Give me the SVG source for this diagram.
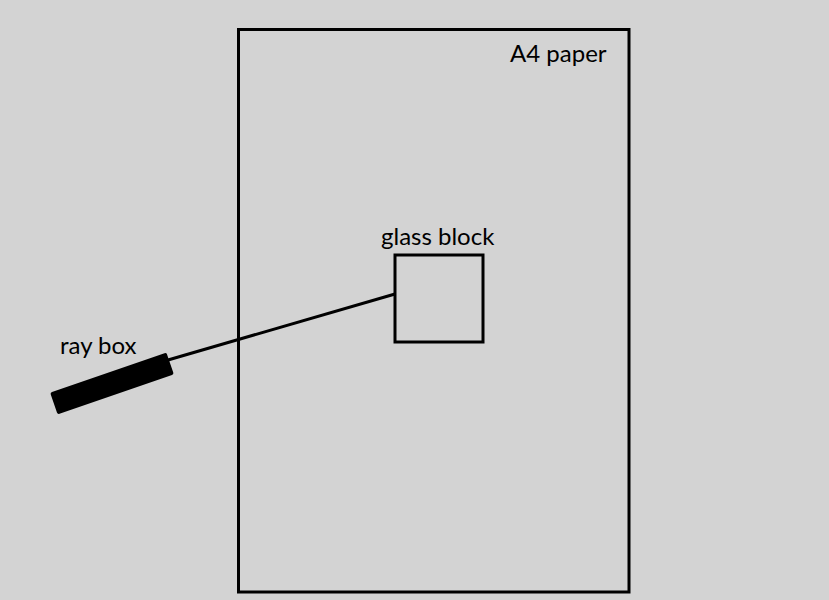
<svg xmlns="http://www.w3.org/2000/svg" width="829" height="600" viewBox="0 0 829 600">
<style>
.lbl{font-family:"Lato","Open Sans",sans-serif;font-size:24px;fill:#000}
.ln{fill:none;stroke:#000;stroke-width:3}
</style>
<rect width="829" height="600" fill="#d3d3d3"/>
<g id="paper">
<rect class="ln" x="238.5" y="29.5" width="390.5" height="562.5"/>
<text class="lbl" x="510" y="62">A4 paper</text>
</g>
<g id="glass-block">
<rect class="ln" x="395" y="255" width="88" height="87" stroke-width="2.6"/>
<text class="lbl" x="381" y="245">glass block</text>
</g>
<g id="ray-box">
<rect x="-61.5" y="-11.5" width="123" height="23" rx="2" fill="#000" transform="translate(112 383.5) rotate(-19)"/>
<text class="lbl" x="60" y="354">ray box</text>
</g>
<g id="connectors">
<line class="ln" x1="168" y1="360" x2="395" y2="294"/>
</g>
</svg>
